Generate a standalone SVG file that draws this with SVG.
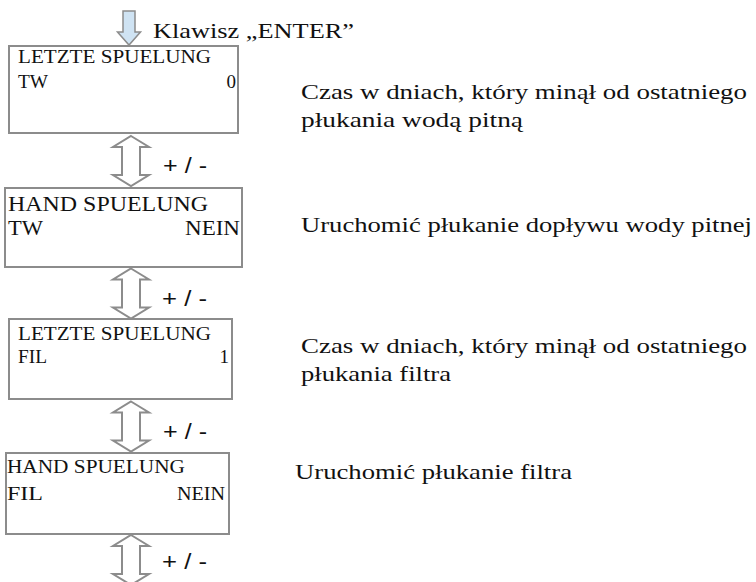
<svg xmlns="http://www.w3.org/2000/svg" xmlns:xlink="http://www.w3.org/1999/xlink" width="756" height="582" viewBox="0 0 756 582">
  <style>
    .box { fill: #ffffff; stroke: #8c8c8c; stroke-width: 2; }
    .lcd { font-family: "Liberation Serif", "Times New Roman", serif; font-size: 19px; fill: #111111; }
    .lcd.big { font-size: 21px; }
    .desc { font-family: "Liberation Serif", "Times New Roman", serif; font-size: 22px; fill: #111111; }
    .pm { font-family: "Liberation Sans", Arial, sans-serif; font-size: 22px; fill: #111111; }
    .dbl { fill: #ffffff; stroke: #8c8c8c; stroke-width: 2; stroke-linejoin: miter; }
    .enter { fill: #cfe3f3; stroke: #8c8c8c; stroke-width: 1.5; }
  </style>
  <defs>
    <!-- hollow up/down arrow, 50 px tall, centred on x=0 -->
    <path id="updown" d="M0,0 L18,11 L9,11 L9,39 L18,39 L0,50 L-18,39 L-9,39 L-9,11 L-18,11 Z"/>
  </defs>
  <rect width="756" height="582" fill="#ffffff"/>

  <g id="connectors">
    <path id="enter-arrow" class="enter" d="M123,11 L135,11 L135,32 L140.5,32 L129,45 L117.5,32 L123,32 Z"/>
    <use xlink:href="#updown" class="dbl" transform="translate(131,136)"/>
    <use xlink:href="#updown" class="dbl" transform="translate(131,268.5)"/>
    <use xlink:href="#updown" class="dbl" transform="translate(131,401.5)"/>
    <use xlink:href="#updown" class="dbl" transform="translate(131,535)"/>
    <text class="desc" x="153" y="38" textLength="201" lengthAdjust="spacingAndGlyphs">Klawisz „ENTER”</text>
    <text class="pm" x="163" y="173" textLength="44" lengthAdjust="spacingAndGlyphs">+ / -</text>
    <text class="pm" x="162" y="306" textLength="45" lengthAdjust="spacingAndGlyphs">+ / -</text>
    <text class="pm" x="163" y="439" textLength="44" lengthAdjust="spacingAndGlyphs">+ / -</text>
    <text class="pm" x="162" y="569" textLength="45" lengthAdjust="spacingAndGlyphs">+ / -</text>
  </g>

  <g id="node-letzte-tw">
    <rect class="box" x="9" y="46" width="229" height="87"/>
    <text class="lcd" x="18" y="63" textLength="193" lengthAdjust="spacingAndGlyphs">LETZTE SPUELUNG</text>
    <text class="lcd" x="18" y="88" textLength="30" lengthAdjust="spacingAndGlyphs">TW</text>
    <text class="lcd" x="236" y="88" text-anchor="end">0</text>
  </g>

  <g id="node-hand-tw">
    <rect class="box" x="5" y="188" width="237" height="79"/>
    <text class="lcd big" x="8" y="211" textLength="200" lengthAdjust="spacingAndGlyphs">HAND SPUELUNG</text>
    <text class="lcd big" x="8" y="235" textLength="35" lengthAdjust="spacingAndGlyphs">TW</text>
    <text class="lcd big" x="185" y="235" textLength="55" lengthAdjust="spacingAndGlyphs">NEIN</text>
  </g>

  <g id="node-letzte-fil">
    <rect class="box" x="9" y="319" width="223" height="80"/>
    <text class="lcd" x="18" y="340" textLength="193" lengthAdjust="spacingAndGlyphs">LETZTE SPUELUNG</text>
    <text class="lcd" x="18" y="363" textLength="29" lengthAdjust="spacingAndGlyphs">FIL</text>
    <text class="lcd" x="229" y="363" text-anchor="end">1</text>
  </g>

  <g id="node-hand-fil">
    <rect class="box" x="6" y="453" width="223" height="81"/>
    <text class="lcd" x="7" y="473" textLength="178" lengthAdjust="spacingAndGlyphs">HAND SPUELUNG</text>
    <text class="lcd" x="7" y="500" textLength="36" lengthAdjust="spacingAndGlyphs">FIL</text>
    <text class="lcd" x="177" y="500" textLength="48" lengthAdjust="spacingAndGlyphs">NEIN</text>
  </g>

  <g id="notes">
    <text class="desc" x="301" y="99" textLength="446" lengthAdjust="spacingAndGlyphs">Czas w dniach, który minął od ostatniego</text>
    <text class="desc" x="301" y="127" textLength="222" lengthAdjust="spacingAndGlyphs">płukania wodą pitną</text>
    <text class="desc" x="301" y="232" textLength="451" lengthAdjust="spacingAndGlyphs">Uruchomić płukanie dopływu wody pitnej</text>
    <text class="desc" x="301" y="353" textLength="446" lengthAdjust="spacingAndGlyphs">Czas w dniach, który minął od ostatniego</text>
    <text class="desc" x="301" y="381" textLength="150" lengthAdjust="spacingAndGlyphs">płukania filtra</text>
    <text class="desc" x="295" y="479" textLength="277" lengthAdjust="spacingAndGlyphs">Uruchomić płukanie filtra</text>
  </g>
</svg>
